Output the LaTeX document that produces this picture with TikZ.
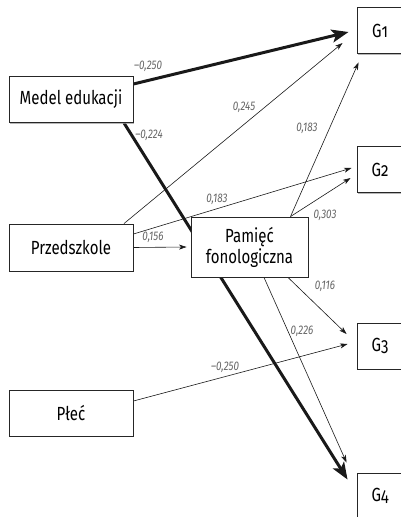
\documentclass[tikz,border=0pt]{standalone}
\usepackage{fontspec}
\setmainfont[FakeStretch=0.79]{Fira Sans}
\newfontfamily\gfont[FakeStretch=0.79,Numbers=OldStyle]{Fira Sans}
\usetikzlibrary{arrows.meta,shadows,calc}
\pgfdeclarelayer{bg}
\pgfsetlayers{bg,main}

\begin{document}
\begin{tikzpicture}[x=1pt,y=-1pt,
  box/.style={draw=black!85, line width=0.9pt, fill=white, inner sep=0pt,
    align=center, font=\fontsize{19}{21}\selectfont,
    drop shadow={shadow xshift=1.3pt, shadow yshift=-1.3pt, fill=black!40, opacity=0.7}},
  gbox/.style={box, minimum width=46pt, minimum height=46pt, font=\fontsize{19}{21}\gfont},
  weakpath/.style={-{Stealth[length=7.5pt,width=5pt,inset=2pt]}, line width=0.6pt, black!90},
  strongpath/.style={-{Stealth[length=17pt,width=13pt,inset=4pt]}, line width=3pt, black!90},
  coef/.style={font=\fontsize{12.5}{14}\selectfont\itshape, text=black!60, inner sep=0pt}]

\useasboundingbox (0,0) rectangle (401,517);

% predictors
\node[box, minimum width=124pt, minimum height=46pt] (medel) at (71,99.5) {Medel edukacji};
\node[box, minimum width=124pt, minimum height=47pt] (przed) at (71,247.5) {Przedszkole};
\node[box, minimum width=124pt, minimum height=46pt] (plec) at (71,413) {Płeć};
% mediator
\node[box, minimum width=117pt, minimum height=60pt] (pam) at (249.5,247) {Pamięć\\fonologiczna};
% outcomes
\node[gbox] (g1) at (380,30.5) {G1};
\node[gbox] (g2) at (380,169.5) {G2};
\node[gbox] (g3) at (380,346) {G3};
\node[gbox] (g4) at (380,496) {G4};

\begin{pgfonlayer}{bg}
  \draw[strongpath] ([shift={(0,-15.5)}]medel.east) -- ([shift={(-8,1.5)}]g1.west);
  \draw[strongpath] ([shift={(53,0)}]medel.south) -- ([shift={(-9,7)}]g4.north west);
  \draw[weakpath] ([shift={(53,0)}]przed.north) -- ([shift={(-14,12.5)}]g1.west);
  \draw[weakpath] ([shift={(0,-13.5)}]przed.east) -- ([shift={(-5,-1.5)}]g2.west);
  \draw[weakpath] (przed.east) -- ([shift={(-4,0)}]pam.west);
  \draw[weakpath] ([shift={(41,0)}]pam.north) -- ([shift={(2,8.5)}]g1.south west);
  \draw[weakpath] ([shift={(41,0)}]pam.north) -- ([shift={(-6,8.5)}]g2.west);
  \draw[weakpath] ([shift={(38.5,0)}]pam.south) -- ([shift={(-10,-12)}]g3.west);
  \draw[weakpath] ([shift={(14.5,0)}]pam.south) -- ([shift={(-10,-10)}]g4.north west);
  \draw[weakpath] ([shift={(0,-12)}]plec.east) -- ([shift={(-9,-2)}]g3.west);
\end{pgfonlayer}

% path coefficients
\node[coef] (c1) at (148,66) {–0,250};
\node[coef] (c2) at (149,135) {–0,224};
\node[coef] (c3) at (244,107) {0,245};
\node[coef] (c4) at (307,128) {0,183};
\node[coef] (c5) at (217,199) {0,183};
\node[coef] (c6) at (153,237) {0,156};
\node[coef] (c7) at (325,215) {0,303};
\node[coef] (c8) at (325,286) {0,116};
\node[coef] (c9) at (302,331) {0,226};
\node[coef] (c10) at (225,367) {–0,250};
\end{tikzpicture}
\end{document}
